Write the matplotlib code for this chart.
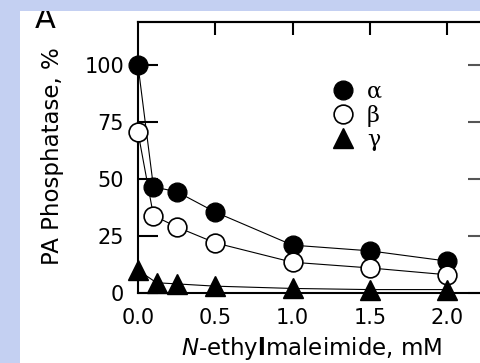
import matplotlib
matplotlib.use("Agg")
import matplotlib.pyplot as plt
from matplotlib.patches import Rectangle
from matplotlib.lines import Line2D

# ---- data ----
x_ab = [0, 0.1, 0.25, 0.5, 1.0, 1.5, 2.0]
alpha_vals = [100, 46.5, 44.5, 35.5, 21, 18.5, 14]
beta_vals = [70.5, 34, 29, 22, 13.5, 11, 8]
x_g = [0, 0.12, 0.25, 0.5, 1.0, 1.5, 2.0]
gamma_vals = [10, 4.5, 4, 3, 2, 1.5, 1.5]
series_labels = ["α", "β", "γ"]
xticks = [0.0, 0.5, 1.0, 1.5, 2.0]
xtick_labels = ["0.0", "0.5", "1.0", "1.5", "2.0"]
yticks = [0, 25, 50, 75, 100]
ytick_labels = ["0", "25", "50", "75", "100"]

plt.rcParams["font.family"] = ["DejaVu Sans"]
plt.rcParams["mathtext.fontset"] = "dejavusans"

bg = "#c4d0f2"
fig = plt.figure(figsize=(4.8, 3.63), dpi=100, facecolor=bg)
panel = Rectangle((20 / 480, 0), 1.0, 1 - 11 / 363, transform=fig.transFigure,
                  facecolor="white", edgecolor="none", zorder=-5)
fig.patches.append(panel)

ax = fig.add_axes([138 / 480, 70 / 363, 344 / 480, 271 / 363])
ax.set_facecolor("none")
ax.set_xlim(0, 344 / 154.5)
ax.set_ylim(0, 118.9)

ms_c = 13.5
ms_t = 14
lw = 0.8
ax.plot(x_ab, alpha_vals, color="black", lw=lw, marker="o", ms=ms_c,
        mfc="black", mec="black", clip_on=False, zorder=3)
ax.plot(x_ab, beta_vals, color="black", lw=lw, marker="o", ms=ms_c,
        mfc="white", mec="black", mew=1.2, clip_on=False, zorder=4)
ax.plot(x_g, gamma_vals, color="black", lw=lw, marker="^", ms=ms_t,
        mfc="black", mec="black", clip_on=False, zorder=5)

for s in ax.spines.values():
    s.set_linewidth(1.5)

ax.set_xticks(xticks)
ax.set_xticklabels(xtick_labels)
ax.set_yticks(yticks)
ax.set_yticklabels(ytick_labels)
ax.tick_params(axis="x", bottom=False, top=False, labelsize=15, pad=7)
ax.tick_params(axis="y", left=True, right=False, direction="in", length=14.5,
               width=1.5, labelsize=15, pad=10)

top = ax.secondary_xaxis("top")
top.set_xticks(xticks[1:])
top.tick_params(direction="in", length=9.5, width=1.5, labeltop=False)
top.spines["top"].set_linewidth(1.5)

right = ax.secondary_yaxis("right")
right.set_yticks(yticks)
right.tick_params(direction="in", length=10, width=1.5, color="#555555",
                  labelright=False)

ax.set_xlabel(r"$\mathit{N}$-ethy$\mathbf{l}$maleimide, mM", fontsize=16.5)
ax.xaxis.set_label_coords(0.503, -0.155)
ax.set_ylabel("PA Phosphatase, %", fontsize=16.5)
ax.yaxis.set_label_coords(-0.215, 0.505)

handles = [
    Line2D([], [], ls="none", marker="o", ms=ms_c, mfc="black", mec="black"),
    Line2D([], [], ls="none", marker="o", ms=ms_c, mfc="white", mec="black", mew=1.2),
    Line2D([], [], ls="none", marker="^", ms=ms_t, mfc="black", mec="black"),
]
leg = ax.legend(handles, series_labels, loc="upper left",
                bbox_to_anchor=(0.53, 0.815), frameon=False,
                prop={"family": "DejaVu Serif", "size": 16},
                handlelength=1.2, handletextpad=0.5, labelspacing=0.08,
                borderaxespad=0)

t = fig.text(0.073, 1 - 28 / 363, "A", fontsize=22, va="baseline", ha="left")
t.set_clip_path(panel)
t.set_clip_on(True)

fig.savefig("out.png", dpi=100, facecolor=bg)
